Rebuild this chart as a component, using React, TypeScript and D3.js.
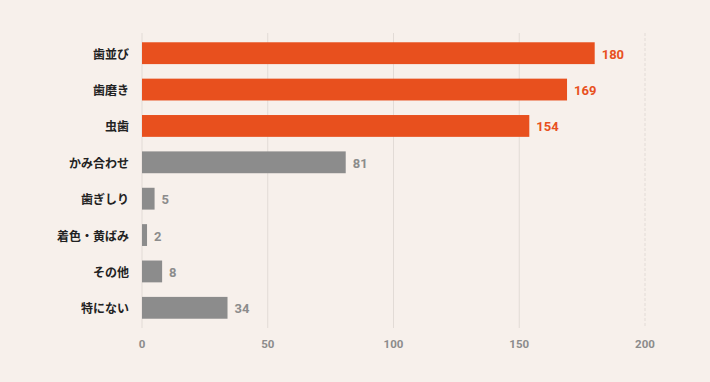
import React from "react";
import * as d3 from "d3";

const categories = ["歯並び", "歯磨き", "虫歯", "かみ合わせ", "歯ぎしり", "着色・黄ばみ", "その他", "特にない"];
const values = [180, 169, 154, 81, 5, 2, 8, 34];
const highlighted = [true, true, true, false, false, false, false, false];
const xTicks = [0, 50, 100, 150, 200];

const W = 710;
const H = 382;
const BG = "#f7f0eb";
const ORANGE = "#e8501e";
const GRAY = "#8c8c8c";
const JP = "'Noto Sans CJK JP', 'Noto Sans', sans-serif";
const NUM = "'Roboto', 'Noto Sans', sans-serif";

export default function App() {
  const x = d3.scaleLinear().domain([0, 200]).range([142, 645]);
  const y = d3.scaleBand<string>().domain(categories).range([35, 326]).paddingInner(0.4).paddingOuter(0.2);
  const gridTop = 33;
  const gridBottom = 328;
  return (
    <svg width={W} height={H} style={{ position: "fixed", left: 0, top: 0, background: BG }}>
      <rect x={0} y={0} width={W} height={H} fill={BG} />
      {xTicks.map((t) => (
        <g key={t}>
          <line x1={x(t)} x2={x(t)} y1={gridTop} y2={gridBottom} stroke="#e2dbd6" strokeWidth={1} strokeDasharray={t === 200 ? "3,2" : undefined} />
          <text x={x(t)} y={345} textAnchor="middle" dominantBaseline="middle" fontFamily={NUM} fontWeight={700} fontSize={11.5} fill={GRAY}>
            {t}
          </text>
        </g>
      ))}
      {categories.map((c, i) => {
        const yy = y(c)!;
        const bw = y.bandwidth();
        const color = highlighted[i] ? ORANGE : GRAY;
        return (
          <g key={c}>
            <rect x={x(0)} y={yy} width={x(values[i]) - x(0)} height={bw} fill={color} />
            <text x={129} y={yy + bw / 2} textAnchor="end" dominantBaseline="central" fontFamily={JP} fontWeight={700} fontSize={12} fill="#222">
              {c}
            </text>
            <text x={x(values[i]) + 7} y={yy + bw / 2 + 1} textAnchor="start" dominantBaseline="central" fontFamily={NUM} fontWeight={700} fontSize={13} fill={color}>
              {values[i]}
            </text>
          </g>
        );
      })}
    </svg>
  );
}
